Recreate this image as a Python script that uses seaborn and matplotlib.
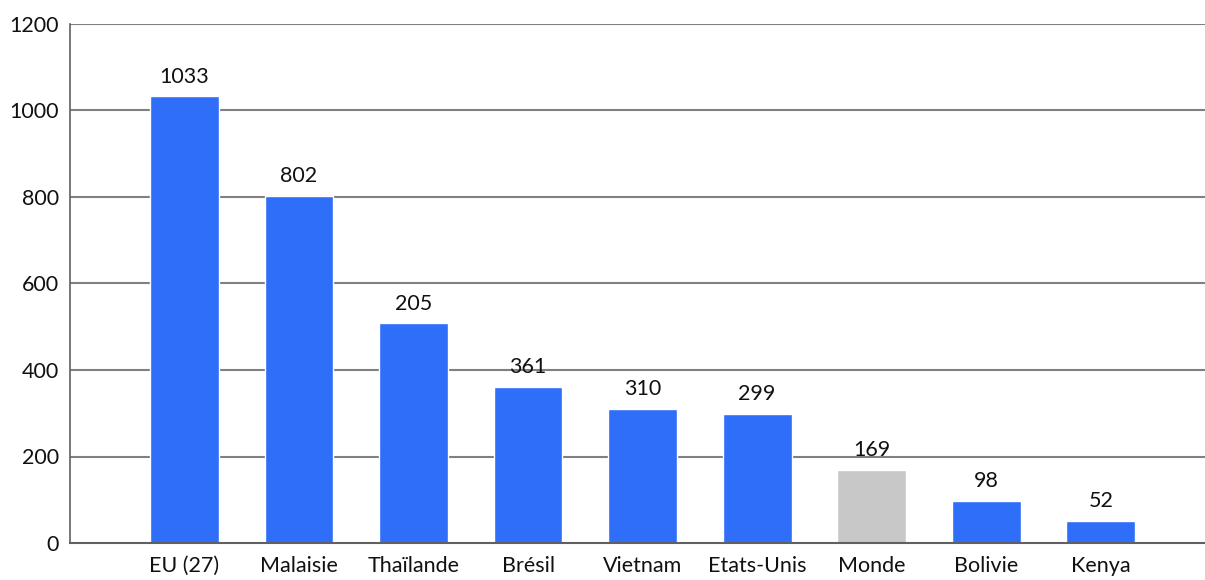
import matplotlib
matplotlib.use("Agg")
import matplotlib.pyplot as plt
import seaborn as sns
import pandas as pd

categories = ["EU (27)", "Malaisie", "Thaïlande", "Brésil", "Vietnam", "Etats-Unis", "Monde", "Bolivie", "Kenya"]
values = [1033, 802, 508, 361, 310, 299, 169, 98, 52]
value_labels = ["1033", "802", "205", "361", "310", "299", "169", "98", "52"]
groups = ["pays", "pays", "pays", "pays", "pays", "pays", "monde", "pays", "pays"]
y_ticks = [0, 200, 400, 600, 800, 1000, 1200]

sns.set_theme(style="white")
plt.rcParams['font.family'] = ['Lato', 'DejaVu Sans']

df = pd.DataFrame({"cat": categories, "val": values, "grp": groups})

fig = plt.figure(figsize=(12.05, 5.8), dpi=100)
ax = fig.add_axes([70/1205, 1-543/580, 1-70/1205, (543-24)/580])

sns.barplot(data=df, x="cat", y="val", hue="grp", dodge=False,
            palette={"pays": "#2F6EF8", "monde": "#C8C8C8"},
            width=0.6, ax=ax, legend=False, saturation=1)

ax.set_ylim(0, 1200)
ax.set_xlim(-1.0, 8.91)
ax.set_yticks(y_ticks)
ax.set_yticklabels([str(t) for t in y_ticks], fontsize=15.5, color="#111111")
ax.tick_params(axis="x", labelsize=15.5, colors="#111111", length=0, pad=9)
ax.tick_params(axis="y", length=0, pad=8)
for t in y_ticks[1:]:
    ax.axhline(t, color="#808080", lw=1.5, zorder=0)
ax.set_xlabel("")
ax.set_ylabel("")
for s in ["top", "right"]:
    ax.spines[s].set_visible(False)
ax.spines["left"].set_color("#606060")
ax.spines["left"].set_linewidth(1.2)
ax.spines["bottom"].set_color("#606060")
ax.spines["bottom"].set_linewidth(1.5)

for i, (v, lab) in enumerate(zip(values, value_labels)):
    ax.annotate(lab, (i, v), xytext=(0, 7), textcoords="offset points",
                ha="center", va="bottom", fontsize=15.5, color="#111111")

fig.savefig("out.png", dpi=100)
